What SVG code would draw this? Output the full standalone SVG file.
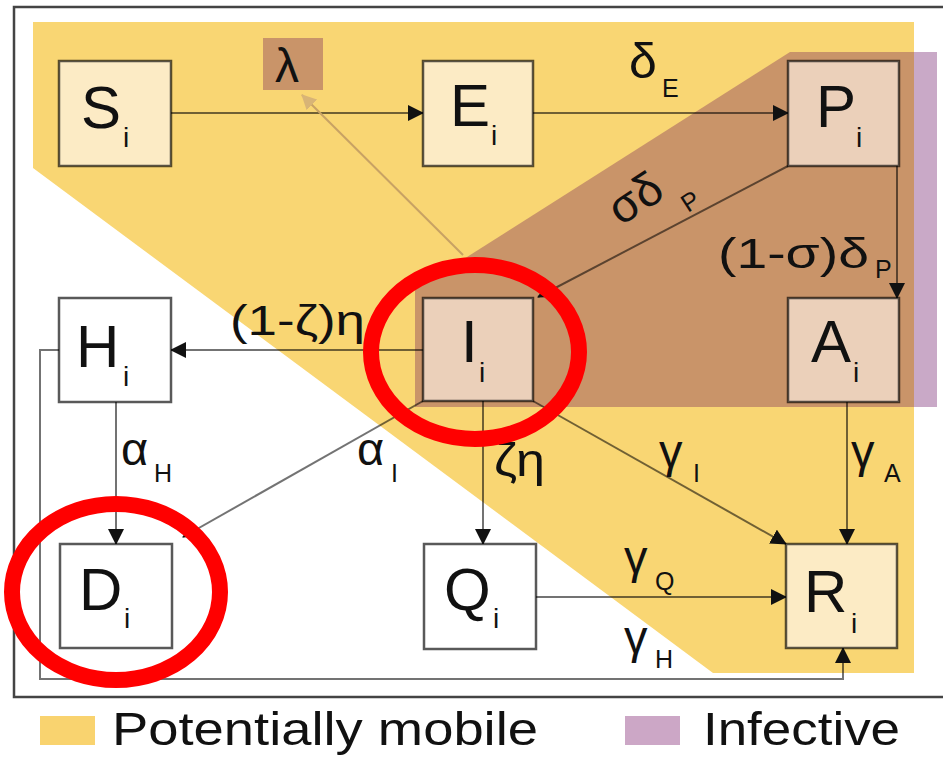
<svg xmlns="http://www.w3.org/2000/svg" width="943" height="757" viewBox="0 0 943 757">
<style>
.ln{fill:none;stroke:#000;stroke-opacity:0.55;stroke-width:2}
.box{stroke:#000;stroke-opacity:0.65;stroke-width:2.5}
.t{font-family:"Liberation Sans",Arial,sans-serif;fill:#111}
.nl{font-size:60px}
.sb{font-size:28px}
.gl{font-size:47px}
.gs{font-size:25px}
.cr{fill:#FCEBC5}
.pk{fill:#EBD0BA}
.wh{fill:#FFFFFF}
</style>
<defs>
<marker id="ah" markerUnits="userSpaceOnUse" markerWidth="16" markerHeight="16" refX="15" refY="8" orient="auto">
<path d="M0,0 L16,8 L0,16 z" fill="#111"/>
</marker>
<marker id="ahl" markerUnits="userSpaceOnUse" markerWidth="15" markerHeight="15" refX="14" refY="7.5" orient="auto">
<path d="M0,0 L15,7.5 L0,15 z" fill="#D8B476"/>
</marker>
</defs>
<rect x="0" y="0" width="943" height="757" fill="#fff"/>
<rect x="14" y="7" width="940" height="690" fill="#fff" stroke="#444" stroke-width="2.5"/>
<g id="regions">
<polygon points="33,22 914,22 914,673 713,673 33,168" fill="#F9D673"/>
<polygon points="790,52 914,52 914,407 415,407 415,290" fill="#C99469"/>
<rect x="914" y="52" width="23" height="355" fill="#C9A9C7"/>
<rect x="263" y="38" width="60" height="52" fill="#C99469"/>
</g>
<g id="connectors">
<line class="ln" x1="171" y1="113" x2="423" y2="113" marker-end="url(#ah)"/>
<line class="ln" x1="533" y1="113" x2="788" y2="113" marker-end="url(#ah)"/>
<line x1="463" y1="255" x2="302" y2="95" stroke="#C8A264" stroke-width="2" marker-end="url(#ahl)"/>
<line class="ln" x1="788" y1="166" x2="538" y2="297" marker-end="url(#ah)"/>
<line class="ln" x1="897" y1="166" x2="897" y2="298" marker-end="url(#ah)"/>
<line class="ln" x1="423" y1="350" x2="171" y2="350" marker-end="url(#ah)"/>
<line class="ln" x1="116" y1="402" x2="116" y2="544" marker-end="url(#ah)"/>
<line class="ln" x1="423" y1="401" x2="183" y2="537" marker-end="url(#ah)"/>
<line class="ln" x1="483" y1="401" x2="483" y2="544" marker-end="url(#ah)"/>
<line class="ln" x1="533" y1="401" x2="786" y2="544" marker-end="url(#ah)"/>
<line class="ln" x1="847" y1="402" x2="847" y2="544" marker-end="url(#ah)"/>
<line class="ln" x1="536" y1="597" x2="786" y2="597" marker-end="url(#ah)"/>
<polyline class="ln" points="59,350 40,350 40,679 843,679 843,648" marker-end="url(#ah)"/>
</g>
<g id="node-S"><rect class="box cr" x="59" y="61" width="112" height="105"/><text class="t nl" x="81" y="128">S</text><text class="t sb" x="123" y="147">i</text></g>
<g id="node-E"><rect class="box cr" x="423" y="61" width="110" height="105"/><text class="t nl" x="450" y="126">E</text><text class="t sb" x="491" y="145">i</text></g>
<g id="node-P"><rect class="box pk" x="788" y="61" width="111" height="105"/><text class="t nl" x="816" y="127">P</text><text class="t sb" x="856" y="147">i</text></g>
<g id="node-H"><rect class="box wh" x="59" y="298" width="112" height="104"/><text class="t nl" x="76" y="367">H</text><text class="t sb" x="123" y="386">i</text></g>
<g id="node-I"><rect class="box pk" x="423" y="298" width="110" height="103"/><text class="t nl" x="461" y="362">I</text><text class="t sb" x="479" y="382">i</text></g>
<g id="node-A"><rect class="box pk" x="788" y="298" width="111" height="104"/><text class="t nl" x="811" y="362">A</text><text class="t sb" x="853" y="382">i</text></g>
<g id="node-D"><rect class="box wh" x="60" y="544" width="112" height="104"/><text class="t nl" x="79" y="610">D</text><text class="t sb" x="124" y="628">i</text></g>
<g id="node-Q"><rect class="box wh" x="424" y="544" width="112" height="105"/><text class="t nl" x="444" y="610">Q</text><text class="t sb" x="493" y="628">i</text></g>
<g id="node-R"><rect class="box cr" x="786" y="544" width="111" height="104"/><text class="t nl" x="804" y="612">R</text><text class="t sb" x="851" y="633">i</text></g>
<g id="labels">
<text class="t" font-size="48" x="287" y="82" text-anchor="middle">λ</text>
<text class="t" font-size="50" x="629" y="78">δ</text><text class="t gs" x="662" y="97">E</text>
<text class="t gl" x="635" y="214" text-anchor="middle" transform="rotate(-33 635 198)">σδ</text>
<text class="t gs" x="690" y="210" text-anchor="middle" transform="rotate(-33 690 201)">P</text>
<text class="t" font-size="43" x="718" y="268" textLength="151" lengthAdjust="spacingAndGlyphs">(1-σ)δ</text><text class="t gs" x="875" y="278">P</text>
<text class="t" font-size="43" x="230" y="335" textLength="135" lengthAdjust="spacingAndGlyphs">(1-ζ)η</text>
<text class="t gl" x="121" y="465">α</text><text class="t gs" x="154" y="482">H</text>
<text class="t gl" x="357" y="465">α</text><text class="t gs" x="391" y="482">I</text>
<text class="t gl" x="494" y="476" textLength="51" lengthAdjust="spacingAndGlyphs">ζη</text>
<text class="t gl" x="659" y="467">γ</text><text class="t gs" x="693" y="482">I</text>
<text class="t gl" x="851" y="467">γ</text><text class="t gs" x="884" y="482">A</text>
<text class="t gl" x="624" y="573">γ</text><text class="t gs" x="655" y="590">Q</text>
<text class="t gl" x="624" y="653">γ</text><text class="t gs" x="655" y="668">H</text>
</g>
<g id="legend">
<rect x="40" y="716" width="55" height="29" fill="#F9D36F"/>
<text class="t" font-size="46" x="112" y="745" textLength="426" lengthAdjust="spacingAndGlyphs">Potentially mobile</text>
<rect x="625" y="716" width="55" height="29" fill="#CCA7C6"/>
<text class="t" font-size="46" x="703" y="745" textLength="197" lengthAdjust="spacingAndGlyphs">Infective</text>
</g>
<g id="annotations" fill="none" stroke="#FF0000" stroke-width="16">
<ellipse cx="475" cy="352" rx="104" ry="87"/>
<ellipse cx="116" cy="592" rx="104" ry="88"/>
</g>
</svg>
